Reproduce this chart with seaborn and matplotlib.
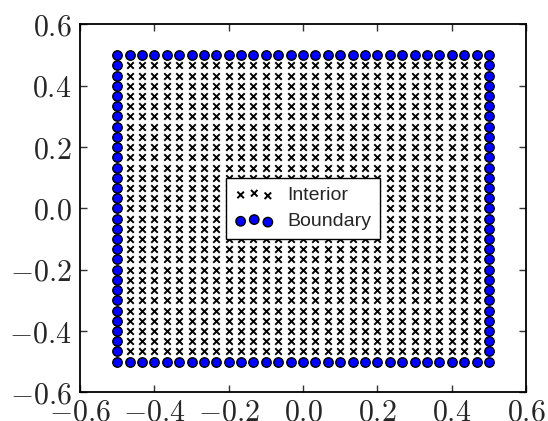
import numpy as np
import pandas as pd
import matplotlib
matplotlib.use("Agg")
import matplotlib.pyplot as plt
from matplotlib.ticker import FixedLocator, FuncFormatter
import seaborn as sns

# Square collocation mesh on [-0.5, 0.5]^2
grid_min, grid_max = -0.5, 0.5
n_per_side = 31
series_labels = ["Interior", "Boundary"]
tick_values = [-0.6, -0.4, -0.2, 0.0, 0.2, 0.4, 0.6]

coords = np.linspace(grid_min, grid_max, n_per_side)
gx, gy = np.meshgrid(coords, coords)
gx, gy = gx.ravel(), gy.ravel()
on_edge = np.isclose(np.abs(gx), grid_max) | np.isclose(np.abs(gy), grid_max)
mesh = pd.DataFrame({
    "x": gx,
    "y": gy,
    "kind": np.where(on_edge, series_labels[1], series_labels[0]),
})

sns.set_style("ticks")
plt.rcParams["mathtext.fontset"] = "cm"
plt.rcParams["font.family"] = ["Liberation Sans", "DejaVu Sans"]

fig = plt.figure(figsize=(5.48, 4.21), dpi=100)
ax = fig.add_axes([0.146, 0.068, 0.814, 0.874])

sns.scatterplot(data=mesh[mesh["kind"] == series_labels[0]], x="x", y="y",
                marker="x", color="black", s=22, linewidth=1.4,
                label=series_labels[0], ax=ax, zorder=2)
sns.scatterplot(data=mesh[mesh["kind"] == series_labels[1]], x="x", y="y",
                marker="o", color="#0000ff", edgecolor="black", s=46,
                linewidth=1.0, label=series_labels[1], ax=ax, zorder=3)

ax.set_xlim(tick_values[0], tick_values[-1])
ax.set_ylim(tick_values[0], tick_values[-1])
ax.set_xlabel("")
ax.set_ylabel("")

fmt = FuncFormatter(lambda v, pos: r"$%.1f$" % v)
for axis in (ax.xaxis, ax.yaxis):
    axis.set_major_locator(FixedLocator(tick_values))
    axis.set_major_formatter(fmt)
ax.tick_params(direction="in", top=True, right=True, length=5, width=1,
               labelsize=21.5, color="#333333")
ax.tick_params(axis="x", pad=4.5)
ax.tick_params(axis="y", pad=6)
for sp in ax.spines.values():
    sp.set_linewidth(1.3)
    sp.set_color("black")

leg = ax.legend(loc="center", scatterpoints=3, fontsize=14,
                frameon=True, fancybox=False, framealpha=1,
                edgecolor="black", handlelength=2.0, handletextpad=0.7,
                borderpad=0.45, labelspacing=0.45, borderaxespad=0)
leg.get_frame().set_linewidth(1.0)

fig.savefig("out.png", dpi=100)
